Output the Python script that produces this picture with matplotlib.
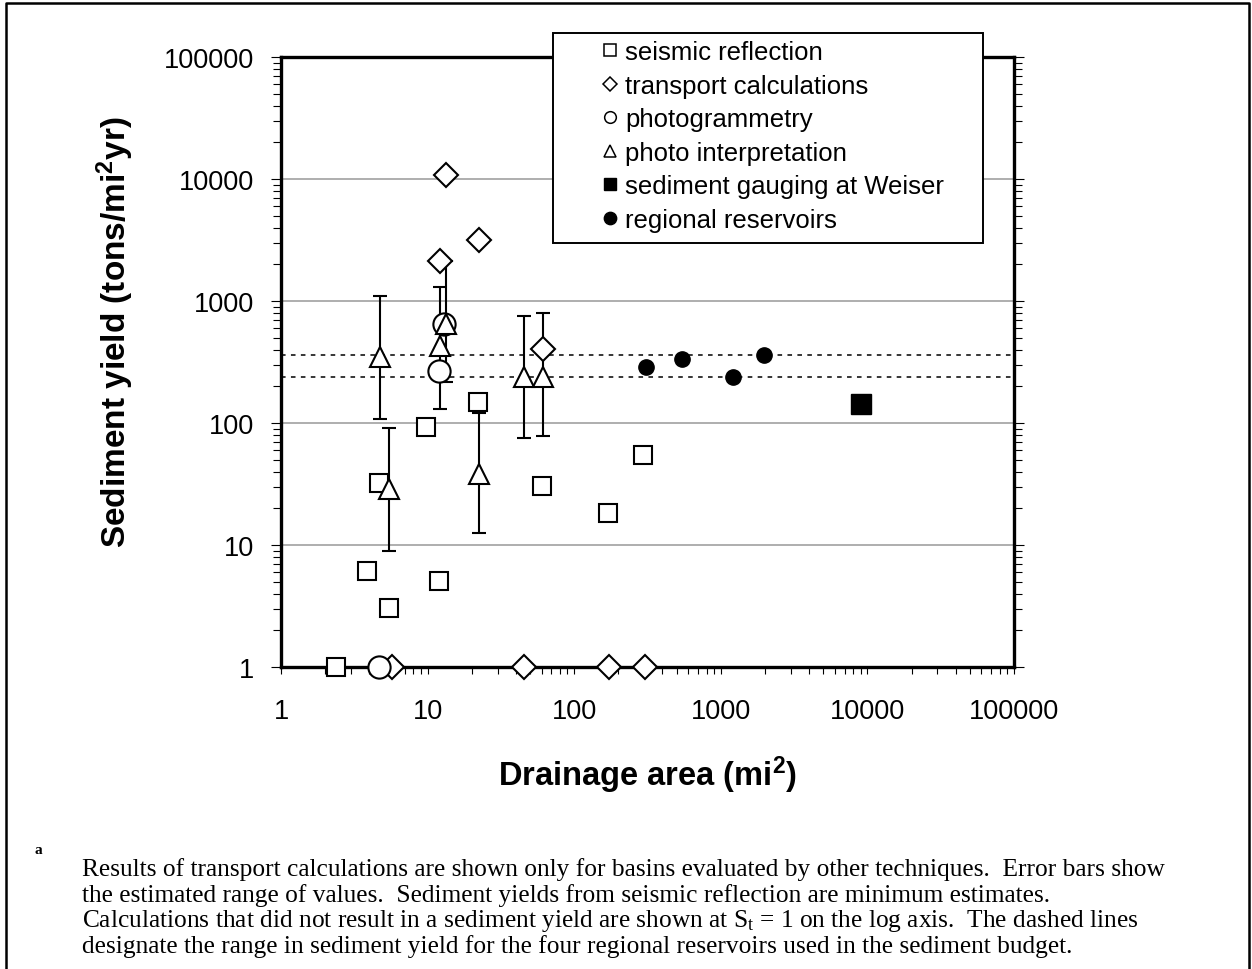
import matplotlib
matplotlib.use('Agg')
import matplotlib.pyplot as plt
from matplotlib.lines import Line2D
from matplotlib.patches import Rectangle
from matplotlib.ticker import LogLocator, NullFormatter, FixedFormatter, FixedLocator

W, H = 1252, 970

plt.rcParams['font.family'] = ['Liberation Sans', 'DejaVu Sans']
plt.rcParams['mathtext.fontset'] = 'custom'
plt.rcParams['mathtext.rm'] = 'Liberation Sans'
plt.rcParams['mathtext.bf'] = 'Liberation Sans:bold'

# seismic reflection (open squares)
seismic_area = [2.36, 3.88, 4.66, 5.43, 9.7, 12.0, 22.2, 60.6, 171, 295]
seismic_yield = [1, 6.1, 32, 3.05, 92, 5.1, 150, 30.6, 18.3, 55]

# transport calculations (open diamonds), 1 = no result
transport_area = [5.69, 45.3, 173, 304, 12.2, 13.4, 22.3, 61.5]
transport_yield = [1, 1, 1, 1, 2130, 10800, 3180, 404]

# photogrammetry (open circles)
photogram_area = [4.66, 12.0, 13.0]
photogram_yield = [1, 268, 647]

# photo interpretation (open triangles) with error range
photo_area = [4.70, 5.48, 12.1, 13.3, 22.3, 45.7, 61.5]
photo_yield = [346, 28.8, 430, 650, 38.2, 237, 237]
photo_low = [108, 9.0, 130, 218, 12.5, 75, 78]
photo_high = [1100, 90.6, 1310, 2130, 121, 759, 792]

# sediment gauging at Weiser
weiser_area = [9080]
weiser_yield = [143]

# regional reservoirs
reservoir_area = [307, 546, 1211, 1972]
reservoir_yield = [289, 335, 240, 359]

budget_range = [240, 360]

legend_labels = ['seismic reflection', 'transport calculations', 'photogrammetry',
                 'photo interpretation', 'sediment gauging at Weiser', 'regional reservoirs']

footnote_lines = [
    'Results of transport calculations are shown only for basins evaluated by other techniques.  Error bars show',
    'the estimated range of values.  Sediment yields from seismic reflection are minimum estimates.',
    r'Calculations that did not result in a sediment yield are shown at $\mathregular{S_t}$ = 1 on the log axis.  The dashed lines',
    'designate the range in sediment yield for the four regional reservoirs used in the sediment budget.',
]

fig = plt.figure(figsize=(W / 100, H / 100), dpi=100)
ax = fig.add_axes([281 / W, 1 - 668 / H, (1014 - 281) / W, (668 - 58) / H])
ax.set_xscale('log')
ax.set_yscale('log')
ax.set_xlim(1, 100000)
ax.set_ylim(1, 100000)

# grid + range lines
for v in [10, 100, 1000, 10000]:
    ax.axhline(v, color='#999999', lw=1.1, zorder=1)
for v in budget_range:
    ax.axhline(v, color='black', lw=1.1, dashes=(3, 3.5), zorder=2)

# error bars for photo interpretation
err_lo = [y - lo for y, lo in zip(photo_yield, photo_low)]
err_hi = [hi - y for y, hi in zip(photo_yield, photo_high)]
ax.errorbar(photo_area, photo_yield, yerr=[err_lo, err_hi], fmt='none', ecolor='black',
            elinewidth=1.5, capsize=5, capthick=1.5, zorder=3)

mk = dict(linestyle='none', markerfacecolor='white', markeredgecolor='black',
          markeredgewidth=1.5, clip_on=False)
ax.plot(seismic_area, seismic_yield, marker='s', markersize=12.7, zorder=4, **mk)
ax.plot(transport_area, transport_yield, marker='D', markersize=12.2, zorder=4.5, **mk)
ax.plot(photogram_area, photogram_yield, marker='o', markersize=16, zorder=5, **mk)
ax.plot(photo_area, photo_yield, marker='^', markersize=14, zorder=6, **mk)
ax.plot(weiser_area, weiser_yield, linestyle='none', marker='s', markersize=14.4,
        color='black', zorder=6)
ax.plot(reservoir_area, reservoir_yield, linestyle='none', marker='o', markersize=11,
        color='black', zorder=6)

# spines and ticks
for s in ax.spines.values():
    s.set_linewidth(2.4)
    s.set_zorder(2.5)

decades = [1, 10, 100, 1000, 10000, 100000]
dec_labels = ['1', '10', '100', '1000', '10000', '100000']
for axis in (ax.xaxis, ax.yaxis):
    axis.set_major_locator(FixedLocator(decades))
    axis.set_major_formatter(FixedFormatter(dec_labels))
    axis.set_minor_locator(LogLocator(base=10, subs=range(2, 10), numticks=20))
    axis.set_minor_formatter(NullFormatter())

ax.tick_params(axis='y', which='both', direction='out', left=True, right=True,
               labelleft=True, labelright=False, width=0.8)
ax.tick_params(axis='y', which='major', length=7, pad=12, labelsize=19.5)
ax.tick_params(axis='y', which='minor', length=5.5)
ax.tick_params(axis='x', which='both', direction='out', bottom=True, top=False, width=0.8)
ax.tick_params(axis='x', which='major', length=5, pad=17, labelsize=19.5)
ax.tick_params(axis='x', which='minor', length=5)

# axis titles
fig.text(115 / W, 1 - 332 / H, r'Sediment yield (tons/mi$\mathbf{^2}$yr)', rotation=90,
         ha='center', va='center', fontsize=24, fontweight='bold')
fig.text(647 / W, 1 - 775 / H, r'Drainage area (mi$\mathbf{^2}$)',
         ha='center', va='center', fontsize=23.5, fontweight='bold')

# legend box and entries
fig.add_artist(Rectangle((552.7 / W, 1 - 244 / H), (983 - 552.7) / W, (244 - 34.3) / H,
                         transform=fig.transFigure, facecolor='white', edgecolor='black',
                         linewidth=1.4, zorder=1))
leg_mk = dict(linestyle='none', markerfacecolor='white', markeredgecolor='black',
              markeredgewidth=1.1)
handles = [
    Line2D([], [], marker='s', markersize=9, **leg_mk),
    Line2D([], [], marker='D', markersize=6.8, **leg_mk),
    Line2D([], [], marker='o', markersize=8.4, **leg_mk),
    Line2D([], [], marker='^', markersize=9, **leg_mk),
    Line2D([], [], linestyle='none', marker='s', markersize=9, color='black'),
    Line2D([], [], linestyle='none', marker='o', markersize=8.9, color='black'),
]
fig.legend(handles, legend_labels, loc='upper left',
           bbox_to_anchor=(599.7 / W, 1 - 41 / H), frameon=False, borderpad=0,
           borderaxespad=0, handlelength=0.8, handletextpad=0.2, labelspacing=0.37,
           prop={'family': 'Liberation Sans', 'size': 18.5}).set_zorder(5)

# outer frame (left, top, right)
frame_x = [6 / W, 6 / W, 1249 / W, 1249 / W]
frame_y = [0, 1 - 4 / H, 1 - 4 / H, 0]
fig.add_artist(Line2D(frame_x, frame_y, transform=fig.transFigure, color='black', lw=1.8))

# footnote
fig.text(38 / W, 1 - 851 / H, 'a', fontsize=11, fontweight='bold', family='Liberation Serif',
         ha='center', va='center')
for i, line in enumerate(footnote_lines):
    fig.text(82 / W, 1 - (876 + 25.7 * i) / H, line, fontsize=18.3,
             family='Liberation Serif', ha='left', va='baseline')

fig.savefig('out.png', dpi=100)
